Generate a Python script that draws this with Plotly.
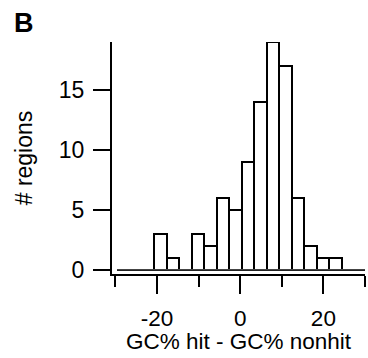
import plotly.graph_objects as go

# Histogram data
bin_edges = [-29.6, -26.6, -23.6, -20.6, -17.6, -14.6, -11.6, -8.6, -5.6, -2.6,
             0.4, 3.4, 6.4, 9.4, 12.4, 15.4, 18.4, 21.4, 24.4, 27.4, 30.4]
counts = [0, 0, 0, 3, 1, 0, 3, 2, 6, 5, 9, 14, 19, 17, 6, 2, 1, 1, 0, 0]

x_major_ticks = [-20, 0, 20]
x_minor_ticks = [-30, -10, 10, 30]
y_ticks = [0, 5, 10, 15]

centers = [(a + b) / 2 for a, b in zip(bin_edges[:-1], bin_edges[1:])]
widths = [b - a for a, b in zip(bin_edges[:-1], bin_edges[1:])]

FONT = "Liberation Sans, Arial, Helvetica, sans-serif"
FS = 22.5

fig = go.Figure()
# baseline for empty bins
fig.add_trace(go.Scatter(
    x=[bin_edges[0], bin_edges[-1]], y=[0, 0], mode="lines",
    line=dict(color="#444", width=1.5), hoverinfo="skip", showlegend=False,
    cliponaxis=False))
fig.add_trace(go.Bar(
    x=centers, y=counts, width=widths,
    marker=dict(color="white", line=dict(color="black", width=2)),
    showlegend=False))

fig.update_layout(
    width=368, height=358,
    margin=dict(l=112, r=3, t=42, b=84),
    plot_bgcolor="white", paper_bgcolor="white",
    font=dict(family=FONT, size=FS, color="black"),
    bargap=0,
    xaxis=dict(
        range=[-30.8, 30], showline=True, linewidth=2, linecolor="black",
        ticks="outside", ticklen=18, tickwidth=2, tickcolor="black",
        tickvals=x_major_ticks, ticktext=[str(v) for v in x_major_ticks],
        minor=dict(tickvals=x_minor_ticks, ticks="outside", ticklen=11,
                   tickwidth=2, tickcolor="black"),
        showgrid=False, zeroline=False, ticklabelstandoff=5,
    ),
    yaxis=dict(
        range=[-0.35, 19], showline=True, linewidth=2, linecolor="black",
        ticks="outside", ticklen=17, tickwidth=2, tickcolor="black",
        tickvals=y_ticks, ticktext=[str(v) for v in y_ticks],
        showgrid=False, zeroline=False, ticklabelstandoff=4,
        tickfont=dict(size=23),
        title=dict(text="# regions", standoff=20, font=dict(size=23)),
    ),
    annotations=[
        dict(text="<b>B</b>", xref="paper", yref="paper",
             x=-0.348, y=1.084, xanchor="center", yanchor="middle",
             showarrow=False, font=dict(size=27, family=FONT, color="black")),
        dict(text="GC% hit - GC% nonhit", xref="paper", yref="paper",
             x=0.5, y=-0.292, xanchor="center", yanchor="middle",
             showarrow=False, font=dict(size=FS, family=FONT, color="black")),
    ],
)

fig.write_html("out.html")
